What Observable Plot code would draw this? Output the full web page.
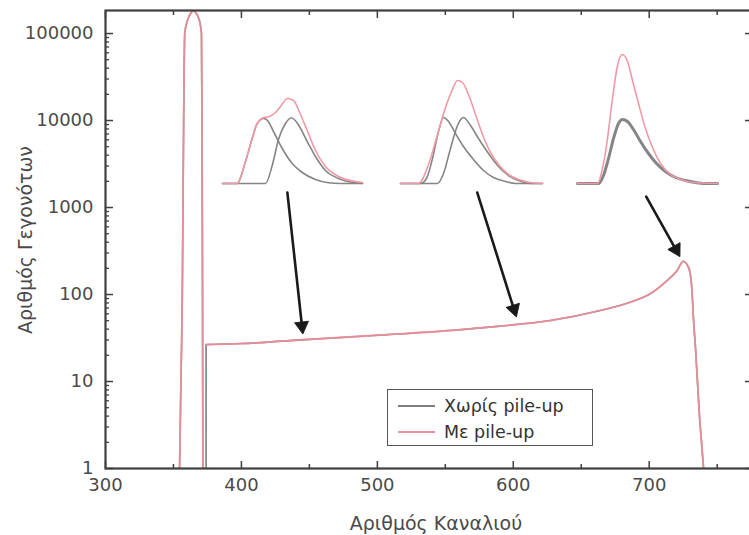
<!DOCTYPE html>
<html><head><meta charset="utf-8">
<script src="https://cdn.jsdelivr.net/npm/d3@7"></script>
<script src="https://cdn.jsdelivr.net/npm/@observablehq/plot@0.6"></script>
<style>
html,body{margin:0;padding:0;background:#fff;overflow:hidden}
#wrap{position:relative;width:749px;height:535px;overflow:hidden;font-family:"DejaVu Sans",sans-serif;color:#4a4a4a}
#wrap svg{position:absolute}
.lbl{position:absolute;white-space:nowrap;font-size:19px;color:#4a4a4a}
#legend{position:absolute;left:387px;top:389px;width:206px;height:57px;border:1.5px solid #555;background:#fff;box-sizing:border-box}
#legend .row{position:absolute;left:10px;height:26px;display:flex;align-items:center;font-size:17.5px;color:#333}
#legend .sw{display:inline-block;width:37px;height:0;border-top:2px solid;margin-right:9px}
</style></head><body><div id="wrap"></div>
<script>
// ---------- data ----------
const xTickLabels = [300, 400, 500, 600, 700];
const xMinorTicks = [350, 450, 550, 650, 750];
const yTickLabels = [1, 10, 100, 1000, 10000, 100000];

// main photopeak (both spectra)
const peakChannel = [354.5, 355.5, 356.5, 357, 357.5, 358.3, 359.5, 361, 362.8, 364.7, 366.6, 368.4, 369.7, 370.6, 371, 371.2, 371.4, 371.5, 371.7];
const peakCounts  = [1, 10, 100, 1000, 10000, 100000, 128000, 152000, 172000, 184000, 172000, 152000, 128000, 100000, 10000, 1000, 100, 10, 1];

// pile-up continuum and sum peak
const contChannel = [374, 400, 450, 500, 553.7, 590.4, 627.2, 664, 686, 700.7, 713.2, 720.6, 725, 727.5, 730, 731.5, 732.5, 734, 735.5, 737, 738.5, 740];
const contCounts  = [26.6, 27.3, 30.5, 34, 38.6, 43.3, 50.2, 65.5, 81.5, 102, 145, 189, 241, 225, 180, 110, 55, 25, 10, 4, 2, 1];

// arrows (from insets to the spectrum)
const arrowFromChannel = [433.8, 573.5, 697.8];
const arrowFromCount   = [1487, 1487, 1337];
const arrowToChannel   = [444.9, 601.5, 721.3];
const arrowToCount     = [38.6, 60.5, 296];

// insets: [position, height]
const inset1GrayA = [[0,0],[14.7,0],[23,22],[29.7,45],[34.7,60],[41.3,65],[45,63],[51,52],[59.7,35],[69.7,20],[79.7,11],[93,4],[106,0.7],[118,0],[140,0]];
const inset1GrayB = [[0,0],[43,0],[49.7,18],[56.3,45],[63,60],[69,65.7],[76.3,58],[84.7,42],[93,27],[103,13],[116,5],[133,0.7],[140,0]];
const inset1Pink  = [[0,0],[14.7,0],[23,22],[29.7,45],[34.7,60],[41.3,66],[47,67],[53,71],[58,77],[65,85],[71,83],[78,69],[84.7,53],[93,33],[103,17],[116,7],[133,2],[140,1]];

const inset2GrayA = [[0,0],[20,0],[26,5],[32,25],[38,52],[43,66],[48,62],[55,50],[63,37],[73,24],[83,13],[93,6],[105,2],[115,0],[142,0]];
const inset2GrayB = [[0,0],[37,0],[43,10],[50,35],[57,58],[63,66],[70,58],[78,45],[88,30],[98,17],[108,8],[118,3],[130,0],[142,0]];
const inset2Pink  = [[0,0],[18,0],[28,19],[37,49],[45,76],[52,94],[57,103],[62,101],[68,89],[75,69],[82,49],[90,31],[98,19],[108,9],[118,4],[130,1],[142,0]];

const inset3Gray  = [[0,0],[21,0],[26,8],[31,25],[36,45],[41,60],[45,64],[50,62],[56,54],[63,42],[71,30],[79,20],[88,12],[98,6],[108,3],[118,1],[128,0],[140,0]];
const inset3Pink  = [[0,0],[20,0],[25,15],[30,45],[35,85],[40,118],[45,129],[50,122],[55,103],[61,80],[68,55],[75,36],[83,20],[93,9],[103,4],[116,1],[140,0]];

// ---------- build ----------
const PINK = "#ef8f9c", GRAY = "#7d7d7d", AX = "#3f3f3f";
const rows = [];
peakChannel.forEach((c,i)=>rows.push({c, n: peakCounts[i], seg: "peak"}));
contChannel.forEach((c,i)=>rows.push({c, n: contCounts[i], seg: "cont"}));
const arrows = arrowFromChannel.map((c,i)=>({x1:c, y1:arrowFromCount[i], x2:arrowToChannel[i], y2:arrowToCount[i]}));
const yMinor = yTickLabels.flatMap(d=>[2,3,4,5,6,7,8,9].map(k=>k*d)).filter(v=>v<184000);

const wrap = document.getElementById("wrap");
function buildMain(heads){
  return Plot.plot({
    width: 760, height: 535,
    marginLeft: 105, marginRight: 8, marginTop: 10, marginBottom: 67,
    style: {background:"#fff", maxWidth:"none", overflow:"visible", fontFamily:"DejaVu Sans, sans-serif"},
    x: {type:"linear", domain:[300, 776]},
    y: {type:"log", domain:[1, 184000]},
    marks: [
      Plot.line(rows, {x:"c", y:"n", z:"seg", stroke:GRAY, strokeWidth:1.6, curve:"monotone-x", clip:true}),
      Plot.ruleX([contChannel[0]], {y1:1, y2:contCounts[0], stroke:GRAY, strokeWidth:1.6}),
      Plot.line(rows, {x:"c", y:"n", z:"seg", stroke:PINK, strokeWidth:1.8, strokeOpacity:0.9, curve:"monotone-x", clip:true}),
      Plot.arrow(arrows, {x1:"x1", y1:"y1", x2:"hx", y2:"hy", stroke:"#1a1a1a", strokeWidth:2.6, headLength:0}),
      Plot.dot(heads, {x:"cx", y:"cy", rotate:"rot", symbol:"triangle", r:5.2, fill:"#1a1a1a", stroke:"#1a1a1a", strokeWidth:0.8}),
      Plot.axisY({ticks:yTickLabels, anchor:"left", tickSize:0, tickPadding:12, tickFormat:d=>String(d), fontSize:18, fill:"#4a4a4a", label:null}),
      Plot.axisY({ticks:yTickLabels, anchor:"left", tickSize:-8, tickFormat:()=>"", stroke:AX, strokeWidth:1.5, label:null}),
      Plot.axisY({ticks:yMinor, anchor:"left", tickSize:-4, tickFormat:()=>"", stroke:AX, strokeWidth:1.3, label:null}),
      Plot.axisY({ticks:yTickLabels, anchor:"right", tickSize:-8, tickFormat:()=>"", stroke:AX, strokeWidth:1.5, label:null}),
      Plot.axisX({ticks:xTickLabels, anchor:"bottom", tickSize:0, tickPadding:10, tickFormat:d=>String(d), fontSize:18, fill:"#4a4a4a", label:null}),
      Plot.axisX({ticks:xTickLabels, anchor:"bottom", tickSize:-7, tickFormat:()=>"", stroke:AX, strokeWidth:1.5, label:null}),
      Plot.axisX({ticks:xMinorTicks, anchor:"bottom", tickSize:-4, tickFormat:()=>"", stroke:AX, strokeWidth:1.5, label:null}),
      Plot.axisX({ticks:xTickLabels, anchor:"top", tickSize:-7, tickFormat:()=>"", stroke:AX, strokeWidth:1.5, label:null}),
      Plot.axisX({ticks:xMinorTicks, anchor:"top", tickSize:-4, tickFormat:()=>"", stroke:AX, strokeWidth:1.5, label:null}),
      Plot.frame({stroke:AX, strokeWidth:2.2})
    ]
  });
}
// first pass to get the scales, then place filled arrow heads along each arrow
arrows.forEach(a=>{a.hx=a.x2; a.hy=a.y2;});
const probe = buildMain([]);
const sx = probe.scale("x"), sy = probe.scale("y");
const heads = arrows.map(a=>{
  const X1=sx.apply(a.x1), Y1=sy.apply(a.y1), X2=sx.apply(a.x2), Y2=sy.apply(a.y2);
  const L=Math.hypot(X2-X1,Y2-Y1), ux=(X2-X1)/L, uy=(Y2-Y1)/L;
  a.hx = sx.invert(X2-ux*6); a.hy = sy.invert(Y2-uy*6);
  return {cx: sx.invert(X2-ux*4.5), cy: sy.invert(Y2-uy*4.5), rot: Math.atan2(ux, -uy)*180/Math.PI};
});
const main = buildMain(heads);
main.style.left = "0px"; main.style.top = "0px";
wrap.appendChild(main);

function inset(left, grays, pinks, grayWidth){
  const toRows = (arr, k) => arr.map(([x,h])=>({x, h, k}));
  const g = grays.flatMap((a,i)=>toRows(a, "g"+i));
  const p = pinks.flatMap((a,i)=>toRows(a, "p"+i));
  const svg = Plot.plot({
    width: 146, height: 134, margin: 2,
    style: {background:"transparent", maxWidth:"none", overflow:"visible"},
    x: {domain:[0,142], axis:null},
    y: {domain:[0,130], axis:null},
    marks: [
      Plot.line(g, {x:"x", y:"h", z:"k", stroke:"#858585", strokeWidth:grayWidth, curve:"monotone-x"}),
      Plot.line(p, {x:"x", y:"h", z:"k", stroke:"#f19aa6", strokeWidth:1.6, curve:"monotone-x"})
    ]
  });
  svg.style.left = (left-2)+"px"; svg.style.top = (183-130-2)+"px";
  wrap.appendChild(svg);
}
inset(222, [inset1GrayA, inset1GrayB], [inset1Pink], 1.6);
inset(400, [inset2GrayA, inset2GrayB], [inset2Pink], 1.6);
inset(577, [inset3Gray], [inset3Pink], 3);

// labels
const xl = document.createElement("div");
xl.className = "lbl"; xl.textContent = "Αριθμός Καναλιού";
xl.style.left = "436px"; xl.style.top = "523px"; xl.style.transform = "translate(-50%,-50%)";
wrap.appendChild(xl);
const yl = document.createElement("div");
yl.className = "lbl"; yl.textContent = "Αριθμός Γεγονότων";
yl.style.left = "25px"; yl.style.top = "240px"; yl.style.transform = "translate(-50%,-50%) rotate(-90deg)";
wrap.appendChild(yl);

// legend
const lg = document.createElement("div");
lg.id = "legend";
lg.innerHTML = `<div class="row" style="top:3px"><span class="sw" style="border-color:${GRAY}"></span>Χωρίς pile-up</div>
<div class="row" style="top:29px"><span class="sw" style="border-color:${PINK}"></span>Με pile-up</div>`;
wrap.appendChild(lg);
</script></body></html>
